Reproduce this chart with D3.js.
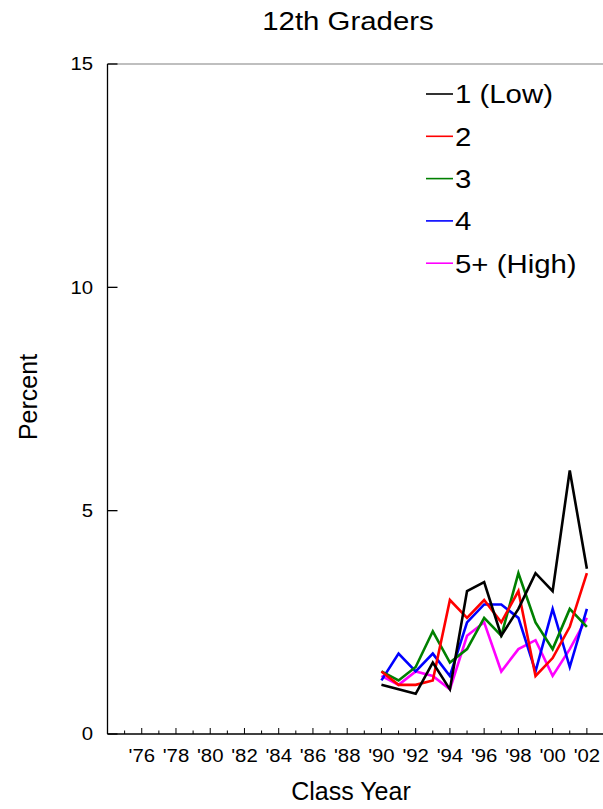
<!DOCTYPE html>
<html><head><meta charset="utf-8">
<script src="https://cdn.jsdelivr.net/npm/d3@7"></script>
<style>body{margin:0;background:#fff}svg{display:block}text{font-family:"Liberation Sans",Arial,sans-serif;fill:#000}</style>
</head><body>
<svg id="c" width="603" height="809"></svg>
<script>
const years = [90,91,92,93,94,95,96,97,98,99,100,101,102];
const seriesNames = ["1 (Low)","2","3","4","5+ (High)"];
const seriesColors = ["#000000","#ff0000","#008000","#0000ff","#ff00ff"];
const low1  = [1.1,1.0,0.9,1.6,1.0,3.2,3.4,2.2,2.8,3.6,3.2,5.9,3.7];
const s2    = [1.4,1.1,1.1,1.2,3.0,2.6,3.0,2.5,3.2,1.3,1.7,2.4,3.6];
const s3    = [1.4,1.2,1.5,2.3,1.6,1.9,2.6,2.2,3.6,2.5,1.9,2.8,2.4];
const s4    = [1.2,1.8,1.4,1.8,1.3,2.5,2.9,2.9,2.6,1.4,2.8,1.5,2.8];
const high5 = [1.3,1.1,1.4,1.3,1.0,2.2,2.5,1.4,1.9,2.1,1.3,1.9,2.6];
const seriesValues = [low1,s2,s3,s4,high5];
const xTickYears = [76,78,80,82,84,86,88,90,92,94,96,98,100,102];
const yTicks = [0,5,10,15];

const svg = d3.select("#c");
const x = d3.scaleLinear().domain([74,103]).range([107.5,604]);
const y = d3.scaleLinear().domain([0,15]).range([734,64]);
const fmtYear = d => "'" + String(d % 100).padStart(2,"0");
function stext(g, tx, ty, size, anchor, str, sx, rot) {
  return g.append("text")
    .attr("transform", `translate(${tx},${ty})` + (rot ? ` rotate(${rot})` : "") + ` scale(${sx},1)`)
    .attr("font-size", size).attr("text-anchor", anchor).text(str);
}

// top border
svg.append("line").attr("x1",x(74)).attr("x2",603).attr("y1",y(15)).attr("y2",y(15))
  .attr("stroke","#808080").attr("stroke-width",1.2);

// x axis
const xAxis = svg.append("g").attr("transform",`translate(0,${y(0)})`);
xAxis.append("line").attr("x1",x(74)).attr("x2",603).attr("stroke","#000").attr("stroke-width",1.3);
const allYears = d3.range(75,103);
xAxis.selectAll("line.t").data(allYears).join("line").attr("class","t")
  .attr("x1",d=>x(d)).attr("x2",d=>x(d)).attr("y1",0).attr("y2",d=>d%2===0?-6:-3.5)
  .attr("stroke","#000").attr("stroke-width",1);
xTickYears.forEach(d => stext(xAxis, x(d), 28, 18, "middle", fmtYear(d), 1.13));

// y axis
const yAxis = svg.append("g");
yAxis.append("line").attr("x1",x(74)).attr("x2",x(74)).attr("y1",y(15)).attr("y2",y(0))
  .attr("stroke","#000").attr("stroke-width",1.3);
yAxis.selectAll("line.t").data(yTicks).join("line").attr("class","t")
  .attr("x1",x(74)).attr("x2",x(74)+10).attr("y1",d=>y(d)).attr("y2",d=>y(d))
  .attr("stroke","#000").attr("stroke-width",1.3);
yTicks.forEach(d => stext(yAxis, 93, y(d), 18, "end", d, 1.13).attr("dy","0.35em"));

// lines
const line = d3.line().x((d,i)=>x(years[i])).y(d=>y(d));
[4,3,2,1,0].forEach(k=>{
  svg.append("path").datum(seriesValues[k]).attr("d",line)
    .attr("fill","none").attr("stroke",seriesColors[k]).attr("stroke-width",2.6)
    .attr("stroke-linejoin","miter");
});

// legend
const leg = svg.append("g");
seriesNames.forEach((n,i)=>{
  const cy = 94 + i*42.3;
  leg.append("line").attr("x1",426).attr("x2",453).attr("y1",cy).attr("y2",cy)
    .attr("stroke",seriesColors[i]).attr("stroke-width",1.6);
  stext(leg, 455, cy, 26, "start", n, 1.13).attr("dy","0.36em");
});

// titles
stext(svg, 348, 30, 26, "middle", "12th Graders", 1.13);
stext(svg, 351, 800, 25, "middle", "Class Year", 1);
stext(svg, 37, 397, 25, "middle", "Percent", 1, -90);
</script>
</body></html>
